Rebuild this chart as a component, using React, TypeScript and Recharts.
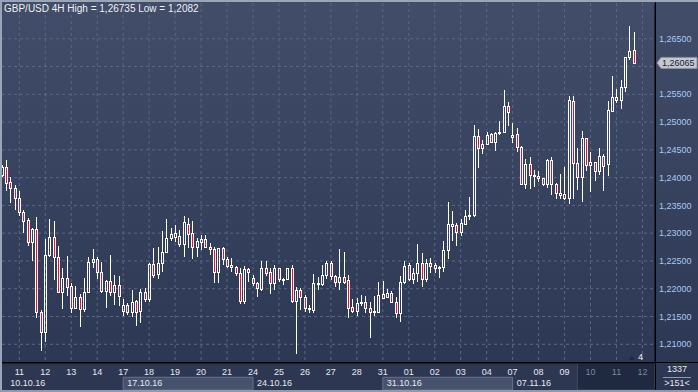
import React from 'react';
import { ComposedChart, Bar, XAxis, YAxis, CartesianGrid, ReferenceArea } from 'recharts';

const opens = [1.2405,1.2419,1.2392,1.2381,1.2363,1.2339,1.2323,1.2285,1.2307,1.2158,
1.2122,1.2260,1.2293,1.2257,1.2195,1.2219,1.2205,1.2166,1.2185,1.2163,
1.2194,1.2248,1.2253,1.2230,1.2196,1.2214,1.2195,1.2207,1.2160,1.2171,
1.2158,1.2178,1.2160,1.2195,1.2181,1.2244,1.2226,1.2246,1.2267,1.2292,
1.2294,1.2295,1.2280,1.2316,1.2300,1.2275,1.2285,1.2290,1.2276,1.2271,
1.2230,1.2273,1.2253,1.2243,1.2240,1.2228,1.2178,1.2236,1.2219,1.2210,
1.2199,1.2238,1.2230,1.2210,1.2237,1.2216,1.2217,1.2237,1.2178,1.2198,
1.2185,1.2165,1.2162,1.2208,1.2209,1.2225,1.2247,1.2223,1.2213,1.2221,
1.2216,1.2167,1.2160,1.2175,1.2177,1.2165,1.2158,1.2159,1.2190,1.2185,
1.2192,1.2177,1.2156,1.2212,1.2243,1.2217,1.2228,1.2246,1.2218,1.2246,
1.2242,1.2240,1.2239,1.2270,1.2313,1.2315,1.2303,1.2317,1.2330,1.2333,
1.2475,1.2454,1.2460,1.2478,1.2465,1.2480,1.2483,1.2529,1.2473,1.2478,
1.2455,1.2388,1.2425,1.2405,1.2403,1.2399,1.2388,1.2431,1.2388,1.2369,
1.2370,1.2364,1.2538,1.2426,1.2402,1.2471,1.2422,1.2428,1.2411,1.2439,
1.2424,1.2520,1.2545,1.2540,1.2563,1.2617,1.2629];

const highs = [1.2423,1.2432,1.2401,1.2387,1.2376,1.2342,1.2327,1.2309,1.2329,1.2162,
1.2289,1.2326,1.2322,1.2277,1.2237,1.2259,1.2210,1.2205,1.2190,1.2219,
1.2258,1.2272,1.2257,1.2248,1.2216,1.2261,1.2225,1.2223,1.2181,1.2174,
1.2198,1.2180,1.2199,1.2201,1.2246,1.2273,1.2276,1.2304,1.2325,1.2309,
1.2315,1.2306,1.2331,1.2327,1.2322,1.2291,1.2297,1.2297,1.2283,1.2276,
1.2274,1.2275,1.2258,1.2256,1.2241,1.2237,1.2241,1.2238,1.2225,1.2213,
1.2250,1.2250,1.2237,1.2243,1.2238,1.2219,1.2238,1.2243,1.2203,1.2201,
1.2189,1.2171,1.2227,1.2222,1.2243,1.2250,1.2250,1.2225,1.2271,1.2266,
1.2225,1.2182,1.2183,1.2189,1.2187,1.2176,1.2187,1.2213,1.2214,1.2199,
1.2196,1.2186,1.2223,1.2249,1.2246,1.2237,1.2281,1.2264,1.2254,1.2255,
1.2247,1.2241,1.2286,1.2356,1.2340,1.2318,1.2325,1.2342,1.2366,1.2495,
1.2487,1.2468,1.2483,1.2480,1.2483,1.2502,1.2558,1.2537,1.2499,1.2489,
1.2457,1.2434,1.2438,1.2414,1.2411,1.2400,1.2433,1.2438,1.2390,1.2407,
1.2419,1.2547,1.2547,1.2454,1.2484,1.2472,1.2446,1.2429,1.2454,1.2442,
1.2538,1.2583,1.2560,1.2576,1.2618,1.26735,1.2663];

const lows = [1.2401,1.2376,1.2355,1.2342,1.2330,1.2300,1.2277,1.2249,1.2147,1.2087,
1.2105,1.2258,1.2216,1.2192,1.2164,1.2187,1.2157,1.2165,1.2132,1.2159,
1.2192,1.2237,1.2217,1.2193,1.2166,1.2187,1.2171,1.2168,1.2151,1.2153,
1.2150,1.2133,1.2139,1.2177,1.2177,1.2219,1.2218,1.2231,1.2264,1.2286,
1.2285,1.2276,1.2257,1.2273,1.2253,1.2258,1.2270,1.2275,1.2261,1.2211,
1.2210,1.2243,1.2238,1.2231,1.2223,1.2172,1.2172,1.2212,1.2205,1.2186,
1.2196,1.2223,1.2191,1.2198,1.2213,1.2207,1.2216,1.2174,1.2082,1.2162,
1.2159,1.2157,1.2156,1.2198,1.2205,1.2217,1.2216,1.2204,1.2198,1.2209,
1.2148,1.2156,1.2151,1.2169,1.2156,1.2112,1.2151,1.2156,1.2182,1.2183,
1.2174,1.2148,1.2141,1.2209,1.2214,1.2208,1.2213,1.2204,1.2213,1.2229,
1.2229,1.2220,1.2231,1.2254,1.2286,1.2277,1.2295,1.2315,1.2324,1.2329,
1.2418,1.2443,1.2459,1.2462,1.2448,1.2477,1.2482,1.2492,1.2462,1.2447,
1.2387,1.2380,1.2380,1.2383,1.2393,1.2385,1.2381,1.2369,1.2361,1.2361,
1.2360,1.2353,1.2362,1.2378,1.2357,1.2411,1.2375,1.2394,1.2405,1.2376,
1.2403,1.2519,1.2534,1.2524,1.2554,1.2612,1.2604];

const closes = [1.2420,1.2390,1.2381,1.2363,1.2338,1.2322,1.2285,1.2307,1.2158,1.2122,
1.2260,1.2293,1.2257,1.2195,1.2219,1.2203,1.2166,1.2185,1.2163,1.2194,
1.2248,1.2253,1.2230,1.2196,1.2214,1.2195,1.2207,1.2187,1.2171,1.2158,
1.2177,1.2159,1.2195,1.2181,1.2244,1.2225,1.2246,1.2267,1.2291,1.2299,
1.2300,1.2280,1.2320,1.2298,1.2275,1.2286,1.2290,1.2275,1.2271,1.2230,
1.2273,1.2253,1.2241,1.2240,1.2228,1.2178,1.2236,1.2231,1.2210,1.2201,
1.2237,1.2229,1.2210,1.2237,1.2217,1.2218,1.2237,1.2178,1.2198,1.2186,
1.2165,1.2163,1.2210,1.2210,1.2225,1.2247,1.2223,1.2213,1.2222,1.2213,
1.2166,1.2160,1.2175,1.2177,1.2165,1.2159,1.2160,1.2189,1.2184,1.2192,
1.2177,1.2156,1.2212,1.2241,1.2217,1.2228,1.2246,1.2218,1.2246,1.2241,
1.2238,1.2239,1.2270,1.2316,1.2316,1.2303,1.2318,1.2331,1.2333,1.2475,
1.2454,1.2460,1.2477,1.2465,1.2481,1.2483,1.2529,1.2519,1.2477,1.2455,
1.2389,1.2425,1.2405,1.2404,1.2399,1.2388,1.2431,1.2388,1.2372,1.2372,
1.2364,1.2540,1.2426,1.2402,1.2471,1.2422,1.2428,1.2411,1.2439,1.2421,
1.2521,1.2545,1.2539,1.2563,1.2617,1.2628,1.26065];

const dayTicks = [4,10,16,22,28,34,40,46,52,58,64,70,76,82,88,94,100,106,112,118,124,130,136,142,148];
const dayLabels = ["11","12","13","14","17","18","19","20","21","24","25","26","27","28","31","01","02","03","04","07","08","09","10","11","12"];
const weekStarts = [4,28,58,88,118];
const weekLabels = ["10.10.16","17.10.16","24.10.16","31.10.16","07.11.16"];
const shadedWeeks = [[28,58],[88,118]];
const futureStart = 133;
const futureEnd = 150.9;
const yTicks = [1.21,1.215,1.22,1.225,1.23,1.235,1.24,1.245,1.25,1.255,1.26,1.265];
const hiddenTick = 1.26;
const lastPrice = 1.26065;
const titleText = "GBP/USD 4H High = 1,26735 Low = 1,2082";
const xDomain: [number, number] = [0, 150.9];
const yDomain: [number, number] = [1.20663, 1.27143];
const bandY: [number, number] = [1.20177, 1.20406];
const futureBandY: [number, number] = [1.20177, 1.20663];

const candles = opens.map((o, i) => ({
  idx: i,
  open: o,
  high: highs[i],
  low: lows[i],
  close: closes[i],
  range: [lows[i], highs[i]],
}));

const FONT = '"Liberation Sans", Arial, sans-serif';
const fmt = (v: number) => v.toFixed(5).replace('.', ',');

const CandleShape = (props: any) => {
  const { x, y, width, height, payload } = props;
  if (x == null || y == null || !payload) return null;
  const top = Math.min(y, y + height);
  const h = Math.abs(height);
  const { open, close, high, low } = payload;
  const span = high - low;
  const toY = (v: number) => (span === 0 ? top : top + ((high - v) / span) * h);
  const cx = Math.round(x + width / 2 - 0.5) + 0.5;
  const up = close >= open;
  const yH = Math.round(toY(high));
  const yL = Math.round(toY(low));
  let T = Math.round(Math.min(toY(open), toY(close)));
  let B = Math.round(Math.max(toY(open), toY(close)));
  if (B - T < 1) B = T + 1;
  return (
    <g>
      {yH < T && <line x1={cx} x2={cx} y1={yH} y2={T} stroke="#ffffff" strokeWidth={1} />}
      {yL > B + 1 && <line x1={cx} x2={cx} y1={B + 1} y2={yL} stroke="#ffffff" strokeWidth={1} />}
      <rect x={cx - 1} y={T + 0.5} width={2} height={B - T} fill={up ? 'none' : '#e0103c'} stroke="#ffffff" strokeWidth={1} />
    </g>
  );
};

const XTick = (props: any) => {
  const { x, payload, index } = props;
  const k = payload.value;
  const di = dayTicks.indexOf(k);
  const future = k >= futureStart;
  const wi = weekStarts.indexOf(k);
  return (
    <g>
      <text x={x} y={375} textAnchor="middle" fontSize={9} fontFamily={FONT} fill={future ? '#7c869b' : '#e6e8ee'}>
        {dayLabels[di]}
      </text>
      {wi >= 0 && (
        <text x={index === 0 ? x - 9 : x + 4} y={386} textAnchor="start" fontSize={9} fontFamily={FONT} fill="#e6e8ee">
          {weekLabels[wi]}
        </text>
      )}
    </g>
  );
};

const YTick = (props: any) => {
  const { x, y, payload } = props;
  const v = payload.value;
  if (v === lastPrice) {
    return (
      <g>
        <path d={`M ${x - 2} ${y} L ${x + 2} ${y - 5.5} L ${x + 38} ${y - 5.5} L ${x + 38} ${y + 5.5} L ${x + 2} ${y + 5.5} Z`} fill="#c4c8d0" stroke="#8a909c" strokeWidth={1} />
        <text x={x + 3} y={y + 3.2} fontSize={9} fontFamily={FONT} fill="#1c2233">{fmt(v)}</text>
      </g>
    );
  }
  if (v === hiddenTick) return <g />;
  return (
    <text x={x} y={y + 3.2} fontSize={9} fontFamily={FONT} fill="#a9c9f2">{fmt(v)}</text>
  );
};

export default function App() {
  return (
    <div style={{ position: 'absolute', left: 0, top: 0, width: 698, height: 392, overflow: 'hidden', background: 'linear-gradient(#414d69, #2b3652)', fontFamily: FONT }}>
      <div style={{ position: 'absolute', left: 0, top: 363, width: 698, height: 29, background: '#2d3752' }} />
      <div style={{ position: 'absolute', left: 0, top: 0 }}>
        <ComposedChart width={698} height={392} data={candles} margin={{ top: 3, right: 0, left: 2, bottom: 0 }}>
          <CartesianGrid stroke="#5b6782" strokeDasharray="3 3" horizontalValues={yTicks} verticalValues={dayTicks} />
          {shadedWeeks.map(([a, b]) => (
            <ReferenceArea key={a} x1={a} x2={b} y1={bandY[0]} y2={bandY[1]} ifOverflow="visible" fill="#46526d" fillOpacity={1} stroke="#66718b" strokeWidth={1} />
          ))}
          <ReferenceArea x1={futureStart} x2={futureEnd} y1={futureBandY[0]} y2={futureBandY[1]} ifOverflow="visible" fill="#1f2940" fillOpacity={1} stroke="#3e4962" strokeWidth={1} />
          <XAxis dataKey="idx" type="number" domain={xDomain} allowDataOverflow ticks={dayTicks} interval={0} height={29} axisLine={{ stroke: '#000000' }} tickLine={false} tick={<XTick />} />
          <YAxis orientation="right" domain={yDomain} allowDataOverflow ticks={[...yTicks, lastPrice]} interval={0} width={43} axisLine={{ stroke: '#000000' }} tickLine={false} tickSize={2} tickMargin={2} tick={<YTick />} />
          <Bar dataKey="range" barSize={3} shape={<CandleShape />} isAnimationActive={false} />
        </ComposedChart>
      </div>
      <div style={{ position: 'absolute', left: 0, top: 362, width: 698, height: 1, background: '#000' }} />
      <div style={{ position: 'absolute', left: 655, top: 0, width: 1, height: 392, background: '#000' }} />
      <div style={{ position: 'absolute', left: 0, top: 0, width: 2, height: 392, background: '#9aa5b8' }} />
      <div style={{ position: 'absolute', left: 0, top: 0, width: 698, height: 2, background: '#9aa5b8' }} />
      <div style={{ position: 'absolute', left: 0, top: 390, width: 698, height: 2, background: '#8e99ad' }} />
      <div style={{ position: 'absolute', left: 4, top: 3, fontSize: 10, color: '#eef0f4', whiteSpace: 'nowrap', lineHeight: '11px' }}>{titleText}</div>
      <div style={{ position: 'absolute', left: 629, top: 356, width: 0, height: 0, borderLeft: '3px solid transparent', borderRight: '3px solid transparent', borderBottom: '4px solid #202a40' }} />
      <div style={{ position: 'absolute', left: 638, top: 352, fontSize: 9, color: '#f0f0f0', lineHeight: '11px' }}>4</div>
      <div style={{ position: 'absolute', left: 656, top: 364, width: 42, textAlign: 'center', fontSize: 9, color: '#e6e8ee', lineHeight: '11px' }}>1337</div>
      <div style={{ position: 'absolute', left: 663, top: 377, width: 28, height: 1, background: '#8e99ad' }} />
      <div style={{ position: 'absolute', left: 656, top: 378, width: 42, textAlign: 'center', fontSize: 9, color: '#e6e8ee', lineHeight: '11px' }}>&gt;151&lt;</div>
    </div>
  );
}
